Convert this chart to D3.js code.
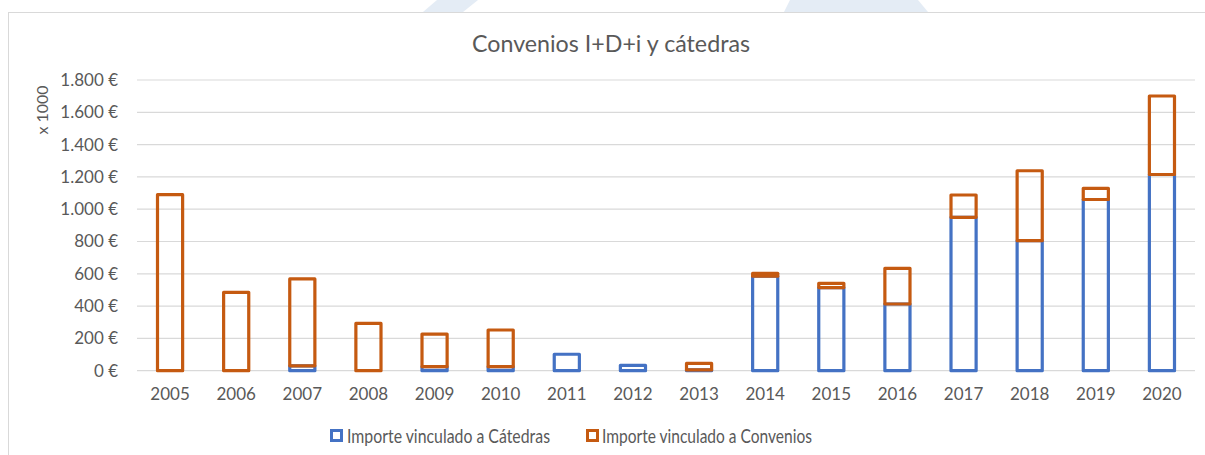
<!DOCTYPE html>
<html><head><meta charset="utf-8">
<script src="https://cdn.jsdelivr.net/npm/d3@7"></script>
<style>
html,body{margin:0;padding:0;background:#fff;}
svg{display:block;}
text{font-family:Lato, "Liberation Sans", sans-serif;fill:#595959;}
</style></head>
<body>
<svg id="chart" width="1205" height="455"></svg>
<script>
const years = ["2005","2006","2007","2008","2009","2010","2011","2012","2013","2014","2015","2016","2017","2018","2019","2020"];
const catedras = [0, 0, 30, 0, 25, 25, 102, 33, 5, 585, 515, 413, 950, 805, 1060, 1215];
const convenios = [1090, 485, 538, 293, 202, 227, 0, 0, 40, 18, 26, 221, 138, 433, 69, 486];
const yTicks = [0, 200, 400, 600, 800, 1000, 1200, 1400, 1600, 1800];
const seriesNames = ["Importe vinculado a Cátedras", "Importe vinculado a Convenios"];
const seriesColors = ["#4472C4", "#C55A11"];
const titleText = "Convenios I+D+i y cátedras";
const yAxisTitle = "x 1000";

const svg = d3.select("#chart");

// faint background watermark shapes above the chart frame
svg.append("polygon").attr("points", "437,0 478,0 463,12 423,12").attr("fill", "#e4ecf5");
svg.append("polygon").attr("points", "790,0 918,0 928,12 784,12").attr("fill", "#e4ecf5");

// chart frame
svg.append("rect").attr("x", 8.5).attr("y", 12.5).attr("width", 1210).attr("height", 460)
  .attr("fill", "#fff").attr("stroke", "#d9d9d9").attr("stroke-width", 1);

const x = d3.scaleBand().domain(years).range([137, 1195]).paddingInner(0.62).paddingOuter(0.31);
const y = d3.scaleLinear().domain([0, 1800]).range([370.7, 80]);

const loc = d3.formatLocale({decimal: ",", thousands: ".", grouping: [3], currency: ["", " €"]});
const fmt = v => loc.format(",")(v) + " €";

// gridlines
svg.append("g").selectAll("line").data(yTicks).join("line")
  .attr("x1", 137).attr("x2", 1195)
  .attr("y1", d => y(d)).attr("y2", d => y(d))
  .attr("stroke", "#d9d9d9").attr("stroke-width", 1.2);

// y axis labels via d3 axis
const yAxis = d3.axisLeft(y).tickValues(yTicks).tickFormat(fmt).tickSize(0).tickPadding(0);
const gy = svg.append("g").attr("transform", "translate(118,0)").call(yAxis);
gy.select(".domain").remove();
gy.selectAll("text").attr("font-size", 17).attr("fill", "#595959").style("font-family", "Lato, sans-serif");

// x axis labels
const xAxis = d3.axisBottom(x).tickSize(0).tickPadding(0);
const gx = svg.append("g").attr("transform", "translate(0,388)").call(xAxis);
gx.select(".domain").remove();
gx.selectAll("text").attr("font-size", 17).attr("fill", "#595959").style("font-family", "Lato, sans-serif");

// stacked outlined bars
const stackData = years.map((yr, i) => ({year: yr, c: catedras[i], v: convenios[i]}));
const stack = d3.stack().keys(["c", "v"])(stackData);
stack.forEach((layer, k) => {
  svg.append("g").selectAll("rect").data(layer.filter(d => d[1] - d[0] > 0)).join("rect")
    .attr("x", d => x(d.data.year))
    .attr("width", x.bandwidth())
    .attr("y", d => y(d[1]))
    .attr("height", d => Math.max(0, y(d[0]) - y(d[1])))
    .attr("fill", "none")
    .attr("stroke", seriesColors[k])
    .attr("stroke-width", 3.2)
    .attr("stroke-linejoin", "round");
});

// title
svg.append("text").attr("x", 611).attr("y", 52).attr("text-anchor", "middle")
  .attr("font-size", 23).attr("textLength", 278).attr("lengthAdjust", "spacingAndGlyphs").text(titleText);

// y axis title
svg.append("text").attr("transform", "translate(48,110) rotate(-90)")
  .attr("text-anchor", "middle").attr("font-size", 16).text(yAxisTitle);

// legend
const legendItems = [
  {sx: 330, tx: 347, tw: 203},
  {sx: 586, tx: 602, tw: 210}
];
legendItems.forEach((it, k) => {
  svg.append("rect").attr("x", it.sx + 1.5).attr("y", 430.5).attr("width", 10).attr("height", 10)
    .attr("fill", "#fff").attr("stroke", seriesColors[k]).attr("stroke-width", 3);
  svg.append("text").attr("x", it.tx).attr("y", 443).attr("font-size", 19)
    .attr("textLength", it.tw).attr("lengthAdjust", "spacingAndGlyphs").text(seriesNames[k]);
});
</script>
</body></html>
